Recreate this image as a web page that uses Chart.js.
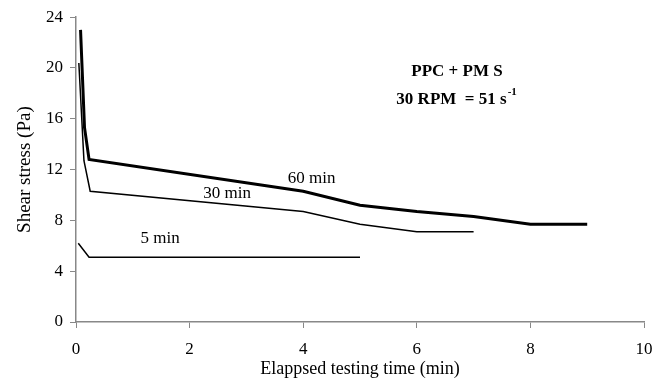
<!DOCTYPE html>
<html>
<head>
<meta charset="utf-8">
<script src="https://cdn.jsdelivr.net/npm/chart.js@4.4.1/dist/chart.umd.min.js"></script>
<style>
  html, body { margin: 0; padding: 0; background: #fff; }
  #wrap { width: 667px; height: 385px; position: relative; }
</style>
</head>
<body>
<div id="wrap"><canvas id="chart"></canvas></div>
<script>
// data
const time60 = [0.08, 0.15, 0.23, 4, 5, 6, 7, 8, 9];
const stress60 = [23.0, 15.3, 12.8, 10.3, 9.2, 8.7, 8.3, 7.7, 7.7];

const time30 = [0.05, 0.14, 0.25, 4, 5, 6, 7];
const stress30 = [20.4, 12.7, 10.3, 8.7, 7.7, 7.1, 7.1];

const time5 = [0.04, 0.23, 5];
const stress5 = [6.2, 5.1, 5.1];

const xTicks = [0, 2, 4, 6, 8, 10];
const yTicks = [0, 4, 8, 12, 16, 20, 24];

// curve labels: [x, y, text]
const curveLabels = [
  [4.15, 11.3, '60 min'],
  [2.66, 10.1, '30 min'],
  [1.48, 6.6, '5 min']
];

const serif = "'Liberation Serif', 'Times New Roman', serif";

function points(xs, ys) {
  return xs.map((x, i) => ({ x: x, y: ys[i] }));
}

// text inside the plot area
const notesPlugin = {
  id: 'notes',
  afterDatasetsDraw(chart) {
    const ctx = chart.ctx;
    const xs = chart.scales.x, ys = chart.scales.y;
    ctx.save();
    ctx.fillStyle = '#000';
    ctx.textAlign = 'center';
    ctx.textBaseline = 'middle';
    ctx.font = '17px ' + serif;
    curveLabels.forEach(l => {
      ctx.fillText(l[2], xs.getPixelForValue(l[0]), ys.getPixelForValue(l[1]));
    });

    // title box
    ctx.font = 'bold 17px ' + serif;
    ctx.fillText('PPC + PM S', 457, 72);
    const main = '30 RPM  = 51 s';
    ctx.textAlign = 'left';
    const w = ctx.measureText(main).width;
    const sx = 456 - (w + 9) / 2;
    ctx.fillText(main, sx, 100);
    ctx.font = 'bold 11px ' + serif;
    ctx.fillText('-1', sx + w + 1, 92);
    ctx.restore();
  }
};

new Chart(document.getElementById('chart'), {
  type: 'scatter',
  data: {
    datasets: [
      { label: '60 min', data: points(time60, stress60), showLine: true, borderColor: '#000', borderWidth: 3, pointRadius: 0, tension: 0 },
      { label: '30 min', data: points(time30, stress30), showLine: true, borderColor: '#000', borderWidth: 1.5, pointRadius: 0, tension: 0 },
      { label: '5 min', data: points(time5, stress5), showLine: true, borderColor: '#000', borderWidth: 1.5, pointRadius: 0, tension: 0 }
    ]
  },
  options: {
    responsive: true,
    maintainAspectRatio: false,
    animation: false,
    layout: { padding: { top: 16, right: 23, left: 0, bottom: 0 } },
    plugins: {
      legend: { display: false },
      tooltip: { enabled: false }
    },
    scales: {
      x: {
        type: 'linear',
        min: 0, max: 10,
        afterBuildTicks: s => { s.ticks = xTicks.map(v => ({ value: v })); },
        afterFit: s => { s.height = 63; },
        grid: { drawOnChartArea: false, color: '#888', tickLength: 6 },
        border: { color: '#888', width: 1.5 },
        ticks: { color: '#000', font: { family: serif, size: 17 }, padding: 11, maxRotation: 0 },
        title: { display: true, text: 'Elappsed testing time (min)', color: '#000', font: { family: serif, size: 18 }, padding: { top: 0, bottom: 5 } }
      },
      y: {
        min: 0, max: 24,
        afterBuildTicks: s => { s.ticks = yTicks.map(v => ({ value: v })); },
        afterFit: s => { s.width = 76; },
        grid: { drawOnChartArea: false, color: '#888', tickLength: 6 },
        border: { color: '#888', width: 1.5 },
        ticks: { color: '#000', font: { family: serif, size: 17 }, padding: 7 },
        title: { display: true, text: 'Shear stress (Pa)', color: '#000', font: { family: serif, size: 19 }, padding: { top: 14, bottom: 0 } }
      }
    }
  },
  plugins: [notesPlugin]
});
</script>
</body>
</html>
